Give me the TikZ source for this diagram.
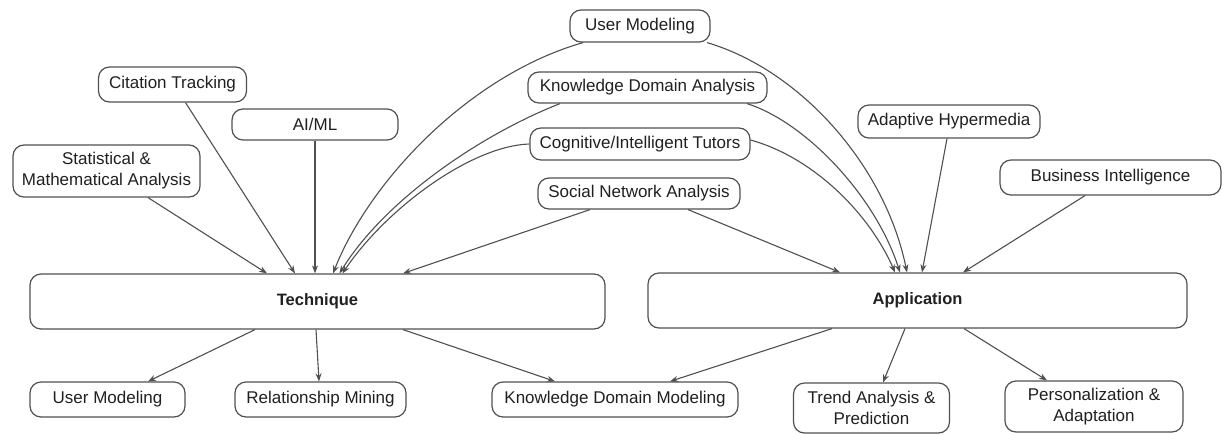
\documentclass[tikz,border=0pt]{standalone}
\usepackage{fontspec}
\setmainfont{Liberation Sans}
\usetikzlibrary{arrows.meta}
\definecolor{edgegray}{HTML}{505050}
\definecolor{txtgray}{HTML}{202020}
\begin{document}
\begin{tikzpicture}[x=1pt,y=-1pt,
  box/.style={draw=edgegray, line width=1.2pt, rounded corners=11pt, fill=white, text=txtgray,
    font=\fontsize{17}{21}\selectfont, align=center, inner sep=0pt},
  bigbox/.style={box, font=\fontsize{16.5}{20}\selectfont\bfseries},
  conn/.style={draw=edgegray, line width=1.1pt, -{Stealth[length=8pt,width=6pt]}}]
\useasboundingbox[fill=white] (0,0) rectangle (1222,434);

% top nodes
\node[box, minimum width=140pt, minimum height=32pt] (um1) at (640,26) {User Modeling};
\node[box, minimum width=148pt, minimum height=35pt] (cit) at (172.5,84.5) {Citation Tracking};
\node[box, minimum width=239pt, minimum height=31pt] (kda) at (647.5,87.5) {Knowledge Domain Analysis};
\node[box, minimum width=166pt, minimum height=31pt] (aiml) at (315,124.5) {AI/ML};
\node[box, minimum width=182pt, minimum height=33pt] (ah) at (949,121.5) {Adaptive Hypermedia};
\node[box, minimum width=187pt, minimum height=52pt] (stat) at (106.5,171) {Statistical \&\\Mathematical Analysis};
\node[box, minimum width=220pt, minimum height=32pt] (cog) at (640,144) {Cognitive/Intelligent Tutors};
\node[box, minimum width=202pt, minimum height=31pt] (sna) at (639,193.5) {Social Network Analysis};
\node[box, minimum width=221pt, minimum height=35pt] (bi) at (1110.5,177.5) {Business Intelligence};

% main nodes
\node[bigbox, minimum width=575pt, minimum height=55pt] (tech) at (317.5,301.5) {Technique};
\node[bigbox, minimum width=539pt, minimum height=55pt] (app) at (917.5,300.5) {Application};

% bottom nodes
\node[box, minimum width=155pt, minimum height=35pt] (um2) at (107.5,399.5) {User Modeling};
\node[box, minimum width=171pt, minimum height=35pt] (rm) at (320.5,399.5) {Relationship Mining};
\node[box, minimum width=246pt, minimum height=35pt] (kdm) at (615,399.5) {Knowledge Domain Modeling};
\node[box, minimum width=156pt, minimum height=50pt] (tap) at (871.5,408) {Trend Analysis \&\\Prediction};
\node[box, minimum width=178pt, minimum height=51pt] (pa) at (1094,406.5) {Personalization \&\\Adaptation};

% into Technique
\draw[conn] ([xshift=41.5pt]stat.south) -- ([xshift=-50.5pt]tech.north);
\draw[conn] ([xshift=13pt]cit.south) -- ([xshift=-22.5pt]tech.north);
\draw[conn] (aiml.south) -- ([xshift=-2.5pt]tech.north);
\draw[conn] ([xshift=-57pt]um1.south) .. controls (470,75) and (370,180) .. ([xshift=15.5pt]tech.north);
\draw[conn] ([xshift=-87.5pt]kda.south) .. controls (480,135) and (385,200) .. ([xshift=22pt]tech.north);
\draw[conn] (cog.west) .. controls (470,146) and (385,210) .. ([xshift=25pt]tech.north);
\draw[conn] ([xshift=-49pt]sna.south) -- ([xshift=85.5pt]tech.north);

% into Application
\draw[conn] ([xshift=49pt]sna.south) -- ([xshift=-77.5pt]app.north);
\draw[conn] ([xshift=67pt]um1.south) .. controls (800,70) and (885,165) .. ([xshift=-10.5pt]app.north);
\draw[conn] ([xshift=99.5pt]kda.south) .. controls (805,122) and (875,195) .. ([xshift=-17.5pt]app.north);
\draw[conn] ([yshift=4pt]cog.east) .. controls (815,158) and (870,215) .. ([xshift=-22.5pt]app.north);
\draw[conn] ([xshift=-2pt]ah.south) -- ([xshift=4.5pt]app.north);
\draw[conn] ([xshift=-25.5pt]bi.south) -- ([xshift=45.5pt]app.north);

% out of Technique
\draw[conn] ([xshift=-62.5pt]tech.south) -- ([xshift=40.5pt]um2.north);
\draw[conn] ([xshift=-1.5pt]tech.south) -- ([xshift=-1.5pt]rm.north);
\draw[conn] ([xshift=85.5pt]tech.south) -- ([xshift=-60pt]kdm.north);

% out of Application
\draw[conn] ([xshift=-85.5pt]app.south) -- ([xshift=55pt]kdm.north);
\draw[conn] ([xshift=-12.5pt]app.south) -- ([xshift=11.5pt]tap.north);
\draw[conn] ([xshift=46.5pt]app.south) -- ([xshift=-47pt]pa.north);
\end{tikzpicture}
\end{document}
